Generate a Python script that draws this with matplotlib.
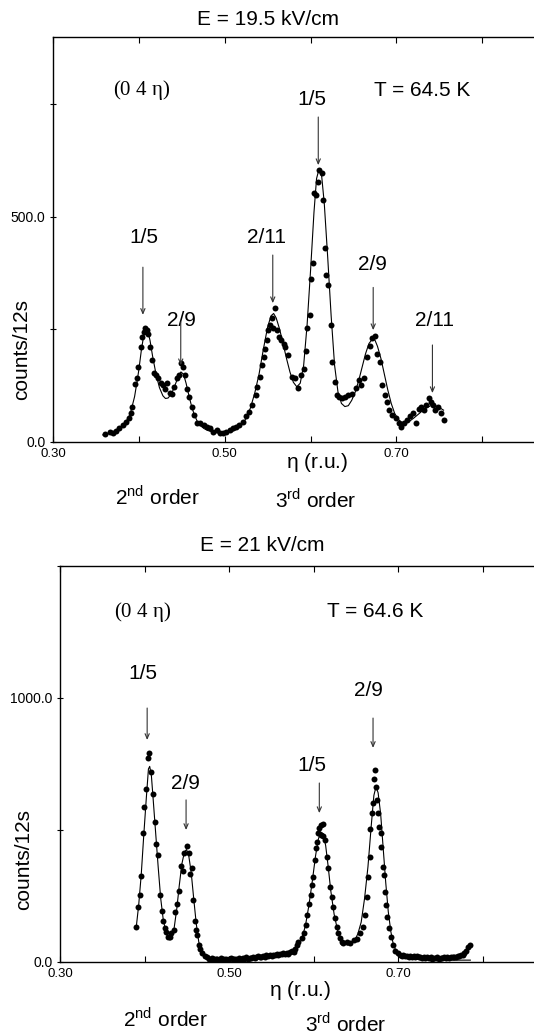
import numpy as np
import matplotlib.pyplot as plt
from matplotlib.ticker import FormatStrFormatter

plt.rcParams['font.family'] = ['Liberation Sans', 'DejaVu Sans']

# ---- top panel: E = 19.5 kV/cm, T = 64.5 K ----
top_x = [0.3604, 0.366, 0.370, 0.3736, 0.377, 0.381, 0.385, 0.3887, 0.3906, 0.3925,
         0.395, 0.3974, 0.399, 0.402, 0.404, 0.4057, 0.4075, 0.4094, 0.4106, 0.4125,
         0.415, 0.4177, 0.420, 0.4226, 0.4253, 0.4283, 0.430, 0.4328, 0.4358, 0.439,
         0.4415, 0.444, 0.447, 0.449, 0.4517, 0.454, 0.4555, 0.4585, 0.4615, 0.464,
         0.468, 0.4717, 0.4755, 0.479, 0.483, 0.4868, 0.4906, 0.4943, 0.498, 0.502,
         0.5057, 0.5094, 0.513, 0.517, 0.5208, 0.5245, 0.528, 0.532, 0.536, 0.5377,
         0.5415, 0.5434, 0.546, 0.547, 0.549, 0.551, 0.5528, 0.5547, 0.5566, 0.5585,
         0.5604, 0.5634, 0.566, 0.5687, 0.5706, 0.5743, 0.578, 0.582, 0.5857, 0.5894,
         0.592, 0.5943, 0.5958, 0.5989, 0.6008, 0.6026, 0.6045, 0.6064, 0.6083, 0.610,
         0.613, 0.614, 0.617, 0.6185, 0.620, 0.6234, 0.6253, 0.6283, 0.631, 0.6336,
         0.6366, 0.640, 0.644, 0.648, 0.6525, 0.656, 0.659, 0.6623, 0.666, 0.6687,
         0.6713, 0.675, 0.678, 0.681, 0.6838, 0.6864, 0.6887, 0.6913, 0.695, 0.699,
         0.7026, 0.7053, 0.709, 0.7128, 0.716, 0.7196, 0.7234, 0.7264, 0.729, 0.7317,
         0.7347, 0.7377, 0.740, 0.743, 0.7453, 0.749, 0.7517, 0.7555]
top_counts = [17, 22, 20, 24, 30, 37, 44, 52, 64, 78,
              128, 141, 165, 210, 232, 244, 252, 248, 239, 210,
              181, 152, 148, 141, 130, 126, 118, 130, 109, 107,
              122, 141, 148, 176, 167, 148, 118, 100, 78, 59,
              41, 42, 37, 33, 30, 22, 26, 19, 20, 22,
              26, 30, 33, 37, 44, 56, 67, 81, 104, 122,
              144, 170, 189, 207, 226, 248, 259, 274, 252, 298,
              248, 233, 227, 218, 211, 193, 143, 141, 119, 148,
              161, 202, 252, 281, 361, 398, 553, 548, 578, 605,
              598, 538, 430, 370, 348, 259, 178, 133, 104, 100,
              96, 100, 104, 107, 119, 137, 126, 141, 189, 213,
              230, 235, 196, 178, 126, 104, 89, 70, 59, 52,
              42, 33, 41, 48, 56, 64, 41, 72, 78, 70,
              81, 96, 89, 81, 70, 78, 63, 48]

top_fit_x = [0.358, 0.365, 0.370, 0.375, 0.380, 0.385, 0.390, 0.395, 0.398, 0.400,
             0.403, 0.406, 0.408, 0.410, 0.413, 0.416, 0.420, 0.424, 0.428, 0.431,
             0.434, 0.437, 0.440, 0.443, 0.446, 0.449, 0.452, 0.455, 0.458, 0.461,
             0.464, 0.468, 0.472, 0.476, 0.480, 0.485, 0.490, 0.495, 0.500, 0.505,
             0.510, 0.515, 0.520, 0.525, 0.530, 0.535, 0.540, 0.545, 0.550, 0.554,
             0.557, 0.560, 0.564, 0.568, 0.572, 0.576, 0.580, 0.584, 0.588, 0.592,
             0.596, 0.600, 0.604, 0.607, 0.610, 0.613, 0.616, 0.620, 0.624, 0.628,
             0.632, 0.636, 0.640, 0.644, 0.648, 0.652, 0.656, 0.660, 0.664, 0.668,
             0.672, 0.675, 0.678, 0.682, 0.686, 0.690, 0.694, 0.698, 0.702, 0.706,
             0.710, 0.715, 0.720, 0.725, 0.730, 0.735, 0.740, 0.745, 0.750, 0.755]
top_fit = [15, 18, 21, 26, 33, 44, 62, 100, 135, 160,
           205, 240, 254, 250, 225, 190, 150, 120, 102, 96,
           97, 104, 115, 130, 145, 155, 150, 130, 105, 82,
           63, 45, 35, 29, 25, 22, 20, 19, 19, 21,
           24, 29, 38, 52, 75, 108, 150, 205, 255, 280,
           285, 275, 250, 218, 185, 155, 132, 122, 130, 170,
           260, 380, 510, 585, 607, 590, 530, 410, 280, 170,
           110, 85, 78, 80, 92, 110, 135, 165, 195, 218,
           228, 226, 212, 185, 150, 115, 85, 63, 50, 43,
           42, 45, 52, 60, 68, 75, 80, 80, 76, 70]

top_peak_labels = ['1/5', '2/9', '2/11', '1/5', '2/9', '2/11']
top_peak_x = [0.4047, 0.4488, 0.556, 0.609, 0.673, 0.742]

# ---- bottom panel: E = 21 kV/cm, T = 64.6 K ----
bot_x = [0.390, 0.392, 0.3942, 0.3958, 0.398, 0.3996, 0.402, 0.4035, 0.405, 0.4077,
         0.4096, 0.4123, 0.4135, 0.416, 0.418, 0.420, 0.422, 0.4238, 0.4258, 0.4277,
         0.4296, 0.4315, 0.4342, 0.4365, 0.438, 0.4404, 0.443, 0.445, 0.447, 0.4496,
         0.4519, 0.4538, 0.4558, 0.4573, 0.4596, 0.4612, 0.4623, 0.4642, 0.466, 0.468,
         0.471, 0.474, 0.476, 0.478, 0.480, 0.482, 0.484, 0.486, 0.488, 0.490,
         0.492, 0.494, 0.496, 0.498, 0.500, 0.502, 0.504, 0.506, 0.508, 0.510,
         0.512, 0.514, 0.516, 0.518, 0.520, 0.522, 0.524, 0.526, 0.528, 0.530,
         0.532, 0.534, 0.536, 0.538, 0.540, 0.542, 0.544, 0.546, 0.548, 0.550,
         0.552, 0.554, 0.556, 0.558, 0.560, 0.562, 0.564, 0.566, 0.568, 0.570,
         0.572, 0.574, 0.576, 0.578, 0.580, 0.5817, 0.5856, 0.588, 0.5907, 0.5923,
         0.5947, 0.5962, 0.5978, 0.5994, 0.6014, 0.6026, 0.6034, 0.6053, 0.6065, 0.608,
         0.609, 0.6105, 0.611, 0.6132, 0.6152, 0.617, 0.619, 0.621, 0.623, 0.625,
         0.627, 0.629, 0.631, 0.633, 0.635, 0.639, 0.643, 0.647, 0.651, 0.6546,
         0.6586, 0.6605, 0.6625, 0.6645, 0.6665, 0.667, 0.6684, 0.6696, 0.6712, 0.6724,
         0.6736, 0.675, 0.6763, 0.6775, 0.679, 0.680, 0.6815, 0.683, 0.684, 0.6854,
         0.687, 0.6894, 0.691, 0.6933, 0.696, 0.700, 0.702, 0.704, 0.706, 0.708,
         0.710, 0.712, 0.714, 0.716, 0.718, 0.720, 0.722, 0.724, 0.726, 0.728,
         0.730, 0.732, 0.734, 0.736, 0.738, 0.740, 0.742, 0.744, 0.746, 0.748,
         0.750, 0.752, 0.754, 0.756, 0.758, 0.760, 0.762, 0.764, 0.766, 0.768,
         0.770, 0.772, 0.774, 0.776, 0.778, 0.780, 0.782, 0.785]
bot_counts = [130, 206, 253, 324, 486, 587, 653, 770, 789, 720,
              635, 530, 446, 404, 253, 193, 155, 126, 114, 95,
              92, 107, 120, 189, 218, 269, 362, 345, 413, 438,
              413, 332, 354, 234, 155, 122, 101, 63, 47, 32,
              21, 16, 12, 10, 14, 9, 12, 11, 8, 13,
              10, 9, 12, 8, 11, 14, 9, 12, 10, 8,
              13, 11, 14, 10, 16, 12, 15, 13, 18, 14,
              17, 20, 16, 19, 22, 18, 24, 21, 25, 22,
              27, 24, 28, 26, 30, 28, 32, 29, 34, 31,
              36, 40, 38, 48, 62, 76, 88, 107, 139, 177,
              218, 253, 290, 322, 385, 429, 455, 489, 505, 518,
              480, 521, 476, 461, 398, 354, 284, 244, 208, 164,
              133, 107, 88, 76, 72, 76, 72, 82, 85, 107,
              133, 177, 246, 322, 398, 501, 562, 600, 694, 726,
              663, 612, 562, 511, 489, 436, 360, 328, 265, 215,
              168, 126, 95, 63, 42, 32, 26, 22, 24, 20,
              23, 19, 22, 18, 21, 17, 20, 16, 19, 15,
              18, 14, 17, 13, 16, 12, 15, 13, 16, 12,
              15, 13, 17, 14, 16, 15, 18, 16, 19, 17,
              21, 20, 24, 27, 32, 40, 55, 63]

bot_fit_x = [0.390, 0.393, 0.396, 0.399, 0.402, 0.4045, 0.406, 0.408, 0.410, 0.413,
             0.416, 0.419, 0.422, 0.425, 0.428, 0.430, 0.432, 0.435, 0.438, 0.441,
             0.444, 0.447, 0.4495, 0.452, 0.455, 0.458, 0.461, 0.464, 0.467, 0.470,
             0.475, 0.480, 0.490, 0.500, 0.510, 0.520, 0.530, 0.540, 0.550, 0.560,
             0.570, 0.578, 0.585, 0.590, 0.594, 0.598, 0.602, 0.605, 0.608, 0.611,
             0.614, 0.617, 0.620, 0.624, 0.628, 0.632, 0.636, 0.640, 0.644, 0.648,
             0.652, 0.656, 0.660, 0.664, 0.668, 0.671, 0.6735, 0.676, 0.679, 0.682,
             0.685, 0.688, 0.691, 0.694, 0.698, 0.702, 0.710, 0.720, 0.740, 0.760, 0.785]
bot_fit = [128, 215, 330, 480, 620, 730, 740, 705, 620, 490,
           360, 240, 160, 115, 88, 82, 90, 130, 200, 290,
           370, 415, 425, 405, 340, 240, 145, 75, 38, 20,
           12, 9, 8, 8, 9, 10, 12, 14, 17, 22,
           30, 45, 80, 135, 210, 300, 400, 460, 492, 485,
           440, 360, 270, 180, 120, 85, 68, 63, 67, 80,
           105, 150, 240, 360, 520, 630, 663, 640, 560, 430,
           300, 190, 115, 65, 35, 20, 12, 9, 7, 6, 6]

bot_peak_labels = ['1/5', '2/9', '1/5', '2/9']
bot_peak_x = [0.403, 0.449, 0.6065, 0.670]

x_major = [0.30, 0.50, 0.70]
x_minor = [0.40, 0.60, 0.80]

FS = 15

fig = plt.figure(figsize=(5.34, 10.36), dpi=100)
ax1 = fig.add_axes([0.0993, 0.5737, 0.9082, 0.3906])
ax2 = fig.add_axes([0.1124, 0.0717, 0.8951, 0.3822])


def style_axes(ax, ymax, ymajor):
    ax.set_xlim(0.30, 0.865)
    ax.set_ylim(0, ymax)
    ax.set_xticks(x_major)
    ax.set_xticks(x_minor, minor=True)
    ax.xaxis.set_major_formatter(FormatStrFormatter('%.2f'))
    ax.set_yticks([0, ymajor])
    ax.set_yticks([ymajor / 2, ymajor * 1.5], minor=True)
    ax.yaxis.set_major_formatter(FormatStrFormatter('%.1f'))
    ax.tick_params(axis='x', which='both', direction='in', top=True, length=4,
                   width=0.8, labelsize=9.5, pad=4.5)
    ax.tick_params(axis='y', which='both', direction='inout', right=True,
                   length=5, width=0.8, labelsize=10, pad=3)
    for s in ax.spines.values():
        s.set_linewidth(1.0)


arrow_style = dict(arrowstyle='->,head_length=0.35,head_width=0.15',
                   color='#333333', lw=0.8, shrinkA=0, shrinkB=0)

# top panel
ax1.plot(top_fit_x, top_fit, color='black', lw=0.8)
ax1.plot(top_x, top_counts, 'o', color='black', ms=4.3, mew=0)
style_axes(ax1, 900, 500)
ax1.text(0.4035, 781, r'(0 4 $\mathregular{\eta}$)', family='Liberation Serif',
         fontsize=FS, ha='center', va='center')
ax1.text(0.730, 781, 'T = 64.5 K', fontsize=FS, ha='center', va='center')
top_text_dx = [0.001, 0.001, -0.007, -0.008, -0.001, 0.002]
top_text_y = [453, 270, 453, 761, 393, 270]
top_arrow_top = [388, 266, 415, 722, 343, 215]
top_arrow_len = [106, 96, 107, 107, 95, 107]
for lab, px, dx, ty, at, al in zip(top_peak_labels, top_peak_x, top_text_dx,
                                   top_text_y, top_arrow_top, top_arrow_len):
    ax1.text(px + dx, ty, lab, fontsize=FS, ha='center', va='center')
    ax1.annotate('', xy=(px, at - al), xytext=(px, at), arrowprops=arrow_style)

# bottom panel
ax2.plot(bot_fit_x, bot_fit, color='black', lw=0.8)
ax2.plot(bot_x, bot_counts, 'o', color='black', ms=4.3, mew=0)
style_axes(ax2, 1500, 1000)
ax2.text(0.398, 1325, r'(0 4 $\mathregular{\eta}$)', family='Liberation Serif',
         fontsize=FS, ha='center', va='center')
ax2.text(0.673, 1325, 'T = 64.6 K', fontsize=FS, ha='center', va='center')
bot_text_dx = [-0.005, -0.001, -0.0085, -0.006]
bot_text_y = [1093, 677, 745, 1029]
bot_arrow_top = [961, 613, 677, 923]
bot_arrow_len = [121, 114, 114, 113]
for lab, px, dx, ty, at, al in zip(bot_peak_labels, bot_peak_x, bot_text_dx,
                                   bot_text_y, bot_arrow_top, bot_arrow_len):
    ax2.text(px + dx, ty, lab, fontsize=FS, ha='center', va='center')
    ax2.annotate('', xy=(px, at - al), xytext=(px, at), arrowprops=arrow_style)

# titles, axis labels and order labels
fig.text(0.502, 0.9807, 'E = 19.5 kV/cm', fontsize=FS, ha='center', va='center')
fig.text(0.4906, 0.4739, 'E = 21 kV/cm', fontsize=FS, ha='center', va='center')
fig.text(0.040, 0.6622, 'counts/12s', fontsize=FS, rotation=90, ha='center', va='center')
fig.text(0.045, 0.1699, 'counts/12s', fontsize=FS, rotation=90, ha='center', va='center')
fig.text(0.5946, 0.5531, r'$\mathregular{\eta}$ (r.u.)', fontsize=FS, ha='center', va='center')
fig.text(0.5618, 0.0444, r'$\mathregular{\eta}$ (r.u.)', fontsize=FS, ha='center', va='center')
fig.text(0.2154, 0.5126, r'2$^{\mathregular{nd}}$ order', fontsize=FS, ha='left', va='baseline')
fig.text(0.515, 0.5106, r'3$^{\mathregular{rd}}$ order', fontsize=FS, ha='left', va='baseline')
fig.text(0.2303, 0.0087, r'2$^{\mathregular{nd}}$ order', fontsize=FS, ha='left', va='baseline')
fig.text(0.5712, 0.0040, r'3$^{\mathregular{rd}}$ order', fontsize=FS, ha='left', va='baseline')

fig.savefig('out.png', dpi=100)
